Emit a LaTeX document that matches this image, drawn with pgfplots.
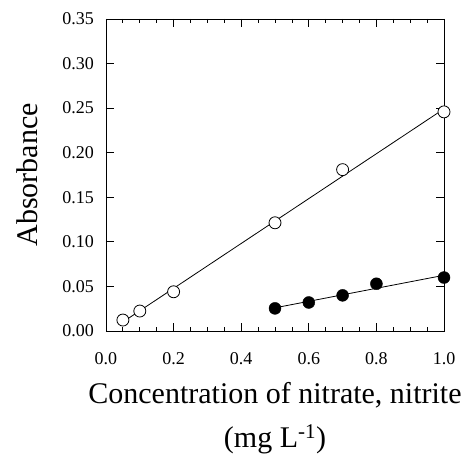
\documentclass[border=0pt]{standalone}
\usepackage{pgfplots}
\pgfplotsset{compat=1.18}
\usepackage{fontspec}
\setmainfont{Liberation Serif}

% measured points
\pgfplotstableread{
x y
0.05 0.0123
0.10 0.0224
0.20 0.0440
0.50 0.1214
0.70 0.1810
1.00 0.2458
}\nitrate
\pgfplotstableread{
x y
0.50 0.0254
0.60 0.0320
0.70 0.0400
0.80 0.0530
1.00 0.0600
}\nitrite

\begin{document}
\begin{tikzpicture}
\useasboundingbox (-106pt,-134pt) rectangle (370pt,331pt);
\begin{axis}[
    scale only axis,
    width=338pt, height=312pt,
    xmin=0, xmax=1.0,
    ymin=0, ymax=0.35,
    xtick={0,0.2,0.4,0.6,0.8,1.0},
    minor x tick num=3,
    ytick={0,0.05,0.10,0.15,0.20,0.25,0.30,0.35},
    tick align=inside,
    major tick length=8pt,
    minor tick length=4pt,
    axis line style={line width=0.9pt},
    every tick/.style={black, line width=0.8pt},
    /pgf/number format/assume math mode=true,
    xticklabel style={/pgf/number format/fixed, /pgf/number format/fixed zerofill,
        /pgf/number format/precision=1, yshift=-21pt},
    yticklabel style={/pgf/number format/fixed, /pgf/number format/fixed zerofill,
        /pgf/number format/precision=2, xshift=-12pt},
    scaled y ticks=false,
    tick label style={font=\fontsize{18}{18}\selectfont, inner sep=0pt},
    xlabel={Concentration of nitrate, nitrite\\(mg L\textsuperscript{-1})},
    xlabel style={font=\fontsize{30}{44}\selectfont, align=center,
        at={(axis description cs:0.5,0)}, anchor=north, inner sep=0pt, yshift=-51pt},
    ylabel={Absorbance},
    ylabel style={font=\fontsize{30}{30}\selectfont,
        at={(axis description cs:-0.234,0.5)}, anchor=center, inner sep=0pt},
]
% fitted lines
\addplot[black, line width=0.8pt] coordinates {(0.05,0.0101) (1.0,0.2492)};
\addplot[black, line width=0.8pt] coordinates {(0.5,0.0260) (1.0,0.0625)};
\addplot[only marks, mark=*, mark size=6pt,
    mark options={fill=white, draw=black, line width=0.8pt}] table {\nitrate};
\addplot[only marks, mark=*, mark size=6pt,
    mark options={fill=black, draw=black}] table {\nitrite};
\end{axis}
\end{tikzpicture}
\end{document}
